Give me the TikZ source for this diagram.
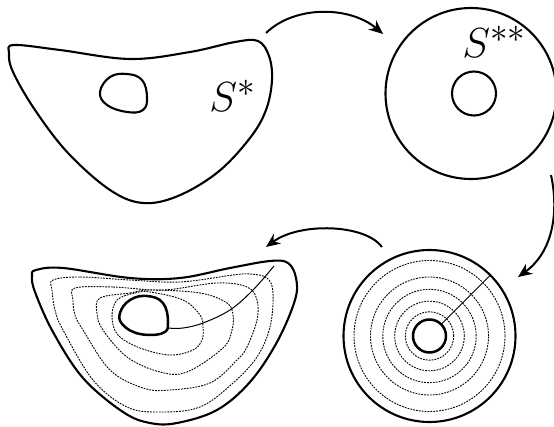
\documentclass[tikz,border=0pt]{standalone}
\usetikzlibrary{arrows.meta,calc}
\begin{document}
\begin{tikzpicture}[x=1pt,y=-1pt,
  outline/.style={line width=2.1pt, line join=round},
  holeline/.style={line width=2.5pt, line join=round},
  dashline/.style={line width=0.9pt, dash pattern=on 1.8pt off 1.1pt},
  thinline/.style={line width=1pt},
  maparrow/.style={line width=2pt, -{Stealth[length=14pt,width=12pt,inset=4.5pt]}},
  lbl/.style={inner sep=0pt, font=\Huge, scale=1.69}]
\useasboundingbox (0,0) rectangle (554,427);

% ---------- top-left surface S* ----------
\draw[outline] plot[smooth cycle, tension=0.6] coordinates {
  (14,45) (60,50) (130,59) (190,52) (235,42) (258,41) (269,56) (272,80) (266,110)
  (250,138) (218,172) (178,196) (143,203) (110,190) (68,153) (35,110) (13,72) (9,53)};
\draw[outline] plot[smooth cycle, tension=0.7] coordinates {
  (100,92) (110,77) (127,74) (142,80) (147,97) (143,110) (127,112) (107,105)};
\node[lbl, anchor=base west] (s1) at (209,112) {$S^*$};

% ---------- top-right annulus S** ----------
\draw[outline] (471,93.5) circle (85.5pt);
\draw[outline] (474,93.5) circle (22pt);
\node[lbl, anchor=base west] (s2) at (462,58) {$S^{**}$};

% ---------- bottom-right foliated annulus ----------
\coordinate (dc) at (429.5,336);
\draw[outline] (dc) circle (86pt);
\foreach \r in {75.5,59,46.7,34.8,24.2} \draw[dashline] (dc) circle (\r pt);
\draw[holeline] (dc) circle (16.5pt);
\draw[thinline] ($(dc)+(45:16.5pt)$) -- ($(dc)+(45:86pt)$);

% ---------- bottom-left foliated surface ----------
\draw[outline] plot[smooth cycle, tension=0.6] coordinates {
  (36,270) (63,268) (130,278) (180,278) (230,268) (270,261) (288,263) (296,278) (295,300)
  (277,342) (250,382) (217,410) (177,423) (150,423) (123,412) (83,378) (53,332) (35,292) (32,276)};
% dashed leaves
\draw[dashline] plot[smooth cycle, tension=0.6] coordinates {
  (53,280) (80,277) (130,280) (180,282) (233,275) (250,274) (267,278) (273,293) (270,327)
  (257,357) (233,383) (200,407) (160,412) (127,407) (93,380) (63,330) (55,310) (52,290)};
\draw[dashline] plot[smooth cycle, tension=0.6] coordinates {
  (75,288) (113,287) (163,290) (217,283) (247,287) (257,300) (257,320) (247,347)
  (237,360) (210,383) (170,390) (143,388) (110,370) (83,330) (75,315) (73,300)};
\draw[dashline] plot[smooth cycle, tension=0.6] coordinates {
  (100,298) (130,293) (150,290) (200,293) (227,303) (233,315) (232,330) (223,348)
  (187,372) (160,372) (127,357) (103,330) (97,313)};
\draw[dashline] plot[smooth cycle, tension=0.6] coordinates {
  (117,300) (135,293) (150,292) (183,300) (200,315) (203,327) (202,340) (193,350)
  (170,355) (140,348) (118,335) (112,317)};
% hole
\draw[holeline, fill=white] plot[smooth cycle, tension=0.7] coordinates {
  (120,313) (130,300) (147,296) (163,303) (168,322) (163,333) (140,334) (123,325)};
% transversal
\draw[thinline] plot[smooth, tension=0.6] coordinates {
  (167,328) (183,328) (203,323) (230,310) (253,290) (274,266)};

% ---------- arrows ----------
\coordinate (a1s) at (266,33);
\coordinate (a1e) at (383,34);
\draw[maparrow] (a1s) .. controls (295,5) and (350,6) .. (a1e);
\coordinate (a2s) at (551,175);
\coordinate (a2e) at (518,277);
\draw[maparrow] (a2s) .. controls (559,212) and (553,252) .. (a2e);
\coordinate (a3s) at (382,247);
\coordinate (a3e) at (266,247);
\draw[maparrow] (a3s) .. controls (365,224) and (300,222) .. (a3e);
\end{tikzpicture}
\end{document}
